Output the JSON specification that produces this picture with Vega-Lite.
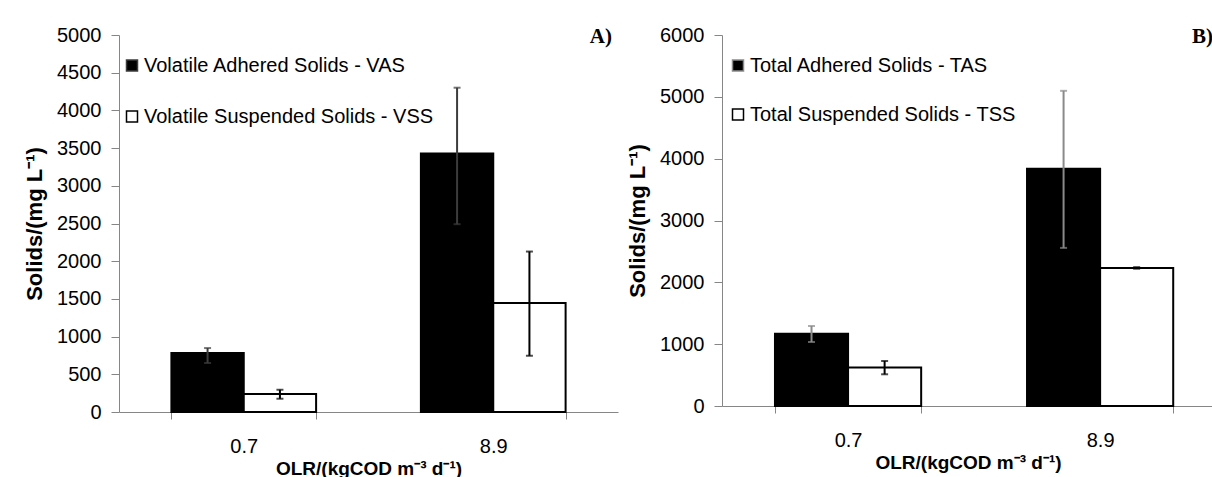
{
  "$schema": "https://vega.github.io/schema/vega-lite/v6.json",
  "background": "white",
  "padding": {"left": 23, "top": 25, "right": 0, "bottom": 0},
  "spacing": 8,
  "resolve": {
    "scale": {"fill": "independent", "color": "independent", "xOffset": "independent", "x": "independent", "y": "independent"},
    "legend": {"fill": "independent", "color": "independent"}
  },
  "config": {
    "view": {"stroke": null},
    "font": "Liberation Sans",
    "axis": {
      "labelFont": "Liberation Sans", "labelFontSize": 20, "labelColor": "black",
      "titleFont": "Liberation Sans", "titleFontSize": 19, "titleFontWeight": "bold", "titleColor": "black",
      "domainColor": "#868686", "tickColor": "#868686", "grid": false
    },
    "legend": {
      "orient": "none", "symbolType": "square", "symbolSize": 121,
      "symbolStrokeColor": "black", "symbolStrokeWidth": 1.5, "symbolOpacity": 1,
      "labelFont": "Liberation Sans", "labelFontSize": 20, "labelColor": "black", "labelLimit": 0,
      "labelOffset": 2, "padding": 0, "title": null
    },
    "title": {"font": "Liberation Serif", "fontSize": 21, "fontWeight": "bold", "color": "black", "anchor": "end", "baseline": "alphabetic"}
  },
  "hconcat": [
    {
      "width": 499, "height": 377,
      "title": {"text": "A)", "offset": -22, "dx": -6},
      "data": {"values": [
        {"olr": "0.7", "series": "Volatile Adhered Solids - VAS", "value": 782, "lo": 650, "hi": 848},
        {"olr": "0.7", "series": "Volatile Suspended Solids - VSS", "value": 238, "lo": 176, "hi": 295},
        {"olr": "8.9", "series": "Volatile Adhered Solids - VAS", "value": 3427, "lo": 2491, "hi": 4301},
        {"olr": "8.9", "series": "Volatile Suspended Solids - VSS", "value": 1444, "lo": 746, "hi": 2128}
      ]},
      "encoding": {
        "x": {"field": "olr", "type": "nominal", "sort": ["0.7", "8.9"],
          "scale": {"paddingInner": 0.42, "paddingOuter": 0.21},
          "axis": {"title": "OLR/(kgCOD m⁻³ d⁻¹)", "labelAngle": 0, "tickBand": "extent", "tickSize": 7, "labelPadding": 17, "titlePadding": 3}},
        "xOffset": {"field": "series", "type": "nominal",
          "sort": ["Volatile Adhered Solids - VAS", "Volatile Suspended Solids - VSS"],
          "scale": {"paddingInner": 0, "paddingOuter": 0}},
        "y": {"field": "value", "type": "quantitative",
          "scale": {"domain": [0, 5000], "nice": false},
          "axis": {"values": [0, 500, 1000, 1500, 2000, 2500, 3000, 3500, 4000, 4500, 5000], "format": "d", "title": "Solids/(mg L⁻¹)", "titleFontSize": 22, "tickSize": 8, "labelPadding": 10, "titlePadding": 10}}
      },
      "layer": [
        {"mark": {"type": "bar", "stroke": "black", "strokeWidth": 2},
          "encoding": {"fill": {"field": "series", "type": "nominal",
            "scale": {"domain": ["Volatile Adhered Solids - VAS", "Volatile Suspended Solids - VSS"], "range": ["black", "white"]},
            "legend": {"legendX": 3, "legendY": 20.5, "rowPadding": 31}}}},
        {"mark": {"type": "rule", "strokeWidth": 2},
          "encoding": {"y": {"field": "lo", "type": "quantitative"}, "y2": {"field": "hi"},
            "color": {"field": "series", "type": "nominal", "scale": {"domain": ["Volatile Adhered Solids - VAS", "Volatile Suspended Solids - VSS"], "range": ["#3c3c3c", "black"]}, "legend": null}}},
        {"mark": {"type": "tick", "thickness": 2, "size": 7},
          "encoding": {"y": {"field": "hi", "type": "quantitative"},
            "color": {"field": "series", "type": "nominal", "legend": null}}},
        {"mark": {"type": "tick", "thickness": 2, "size": 7},
          "encoding": {"y": {"field": "lo", "type": "quantitative"},
            "color": {"field": "series", "type": "nominal", "legend": null}}}
      ]
    },
    {
      "width": 492, "height": 371,
      "title": {"text": "B)", "offset": -22, "dx": -1},
      "data": {"values": [
        {"olr": "0.7", "series": "Total Adhered Solids - TAS", "value": 1170, "lo": 1035, "hi": 1294},
        {"olr": "0.7", "series": "Total Suspended Solids - TSS", "value": 621, "lo": 513, "hi": 728},
        {"olr": "8.9", "series": "Total Adhered Solids - TAS", "value": 3835, "lo": 2557, "hi": 5097},
        {"olr": "8.9", "series": "Total Suspended Solids - TSS", "value": 2233, "lo": 2220, "hi": 2246}
      ]},
      "encoding": {
        "x": {"field": "olr", "type": "nominal", "sort": ["0.7", "8.9"],
          "scale": {"paddingInner": 0.42, "paddingOuter": 0.186, "align": 0.565},
          "axis": {"title": "OLR/(kgCOD m⁻³ d⁻¹)", "labelAngle": 0, "tickBand": "extent", "tickSize": 7, "labelPadding": 17, "titlePadding": 3}},
        "xOffset": {"field": "series", "type": "nominal",
          "sort": ["Total Adhered Solids - TAS", "Total Suspended Solids - TSS"],
          "scale": {"paddingInner": 0, "paddingOuter": 0}},
        "y": {"field": "value", "type": "quantitative",
          "scale": {"domain": [0, 6000], "nice": false},
          "axis": {"values": [0, 1000, 2000, 3000, 4000, 5000, 6000], "format": "d", "title": "Solids/(mg L⁻¹)", "titleFontSize": 22, "tickSize": 8, "labelPadding": 10, "titlePadding": 10}}
      },
      "layer": [
        {"mark": {"type": "bar", "stroke": "black", "strokeWidth": 2},
          "encoding": {"fill": {"field": "series", "type": "nominal",
            "scale": {"domain": ["Total Adhered Solids - TAS", "Total Suspended Solids - TSS"], "range": ["black", "white"]},
            "legend": {"legendX": 6, "legendY": 20.5, "rowPadding": 29}}}},
        {"mark": {"type": "rule", "strokeWidth": 2},
          "encoding": {"y": {"field": "lo", "type": "quantitative"}, "y2": {"field": "hi"},
            "color": {"field": "series", "type": "nominal", "scale": {"domain": ["Total Adhered Solids - TAS", "Total Suspended Solids - TSS"], "range": ["#8a8a8a", "black"]}, "legend": null}}},
        {"mark": {"type": "tick", "thickness": 2, "size": 7},
          "encoding": {"y": {"field": "hi", "type": "quantitative"},
            "color": {"field": "series", "type": "nominal", "legend": null}}},
        {"mark": {"type": "tick", "thickness": 2, "size": 7},
          "encoding": {"y": {"field": "lo", "type": "quantitative"},
            "color": {"field": "series", "type": "nominal", "legend": null}}}
      ]
    }
  ]
}
